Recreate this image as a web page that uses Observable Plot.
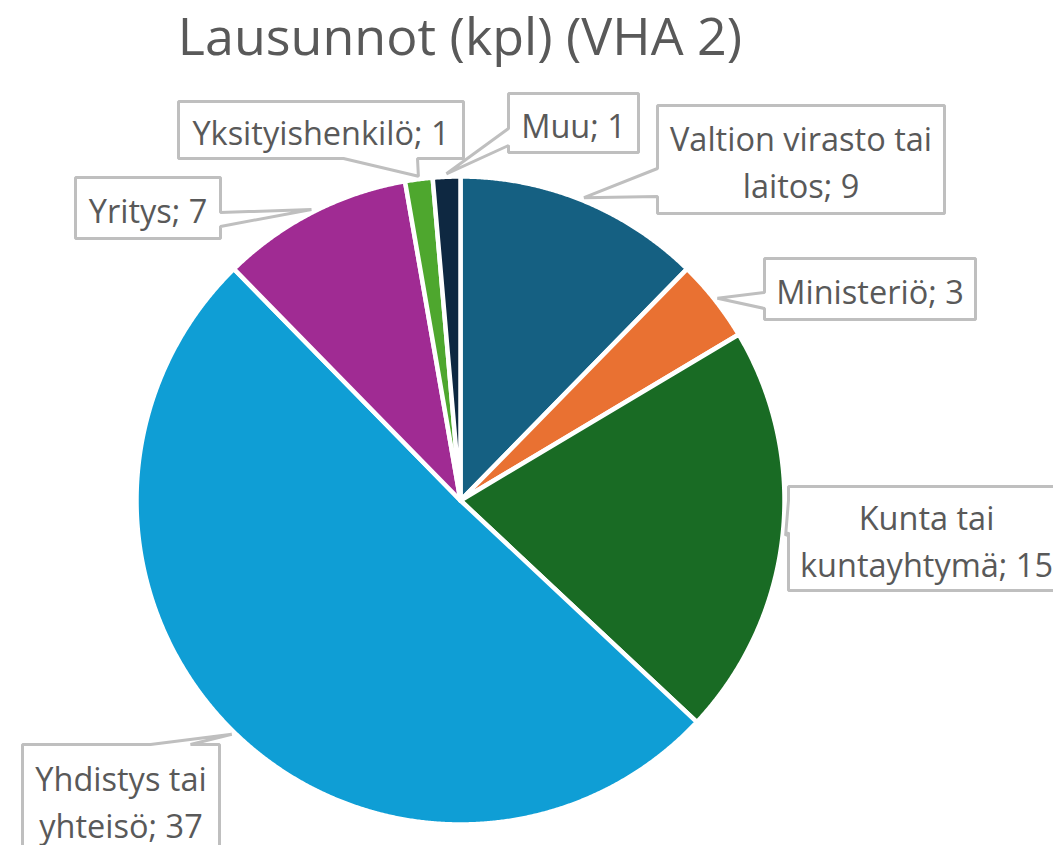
<!DOCTYPE html>
<html><head><meta charset="utf-8">
<script src="https://cdn.jsdelivr.net/npm/d3@7"></script>
<script src="https://cdn.jsdelivr.net/npm/@observablehq/plot@0.6"></script>
<style>
html,body{margin:0;padding:0;background:#fff;overflow:hidden;width:1053px;height:845px;}
#title{height:88px;width:920px;text-align:center;font-family:"Open Sans",sans-serif;font-size:52px;line-height:70px;color:#595959;white-space:nowrap;}
#chart svg{display:block;}
</style></head><body>
<div id="title">Lausunnot (kpl) (VHA 2)</div>
<div id="chart"></div>
<script>
// ---- data ----
const categories = ["Valtion virasto tai laitos", "Ministeriö", "Kunta tai kuntayhtymä", "Yhdistys tai yhteisö", "Yritys", "Yksityishenkilö", "Muu"];
const values = [9, 3, 15, 37, 7, 1, 1];
const categoryLines = ["Valtion virasto tai\nlaitos", "Ministeriö", "Kunta tai\nkuntayhtymä", "Yhdistys tai\nyhteisö", "Yritys", "Yksityishenkilö", "Muu"];
const colors = ["#156082", "#E97132", "#196B24", "#0F9ED5", "#A02B93", "#4EA72E", "#0E2841"];

// ---- layout (page pixels) ----
const W = 1053, H = 845, TOP = 88;
const CX = 460, CY = 500, R = 324;
const callouts = [
  {x1: 657, y1: 105, x2: 944, y2: 213, side: "left", a: 168, b: 196},
  {x1: 764, y1: 258, x2: 975, y2: 319, side: "left", a: 292, b: 308},
  {x1: 788, y1: 486, x2: 1064, y2: 590, side: "left", a: 500, b: 532},
  {x1: 22, y1: 744, x2: 219, y2: 854, side: "top", a: 150, b: 190},
  {x1: 75, y1: 177, x2: 220, y2: 238, side: "right", a: 212, b: 226},
  {x1: 178, y1: 101, x2: 463, y2: 158, side: "bottom", a: 343, b: 417},
  {x1: 508, y1: 93, x2: 638, y2: 152, side: "left", a: 128, b: 145}
];

const arcs = d3.pie().sort(null).value(d => d)(values);

// slice polygons
const slicePts = [];
arcs.forEach((a, i) => {
  const name = categories[i];
  slicePts.push({name, x: CX, y: CY});
  const n = Math.max(2, Math.ceil((a.endAngle - a.startAngle) / (Math.PI / 720)));
  for (let k = 0; k <= n; k++) {
    const t = a.startAngle + (a.endAngle - a.startAngle) * k / n;
    slicePts.push({name, x: CX + R * Math.sin(t), y: CY - R * Math.cos(t)});
  }
});

// callout polygons
const calloutPts = [];
const labels = [];
arcs.forEach((a, i) => {
  const c = callouts[i];
  const m = (a.startAngle + a.endAngle) / 2;
  const ax = CX + (R + 3) * Math.sin(m), ay = CY - (R + 3) * Math.cos(m);
  let p;
  if (c.side === "top") p = [[c.x1,c.y1],[c.a,c.y1],[ax,ay],[c.b,c.y1],[c.x2,c.y1],[c.x2,c.y2],[c.x1,c.y2]];
  else if (c.side === "right") p = [[c.x1,c.y1],[c.x2,c.y1],[c.x2,c.a],[ax,ay],[c.x2,c.b],[c.x2,c.y2],[c.x1,c.y2]];
  else if (c.side === "bottom") p = [[c.x1,c.y1],[c.x2,c.y1],[c.x2,c.y2],[c.b,c.y2],[ax,ay],[c.a,c.y2],[c.x1,c.y2]];
  else p = [[c.x1,c.y1],[c.x2,c.y1],[c.x2,c.y2],[c.x1,c.y2],[c.x1,c.b],[ax,ay],[c.x1,c.a]];
  p.forEach(([x, y]) => calloutPts.push({id: i, x, y}));
  labels.push({x: (c.x1 + c.x2) / 2, y: (c.y1 + c.y2) / 2, text: `${categoryLines[i]}; ${values[i]}`});
});

const chart = Plot.plot({
  width: W,
  height: H - TOP,
  margin: 0,
  x: {domain: [0, W], range: [0, W], axis: null},
  y: {domain: [TOP, H], range: [0, H - TOP], axis: null},
  color: {domain: categories, range: colors},
  style: {background: "transparent", fontFamily: "'Open Sans', sans-serif", overflow: "hidden"},
  marks: [
    Plot.line(slicePts, {x: "x", y: "y", z: "name", fill: "name", stroke: "white", strokeWidth: 4.5, strokeLinejoin: "round", curve: "linear-closed"}),
    Plot.line(calloutPts, {x: "x", y: "y", z: "id", fill: "white", stroke: "#bfbfbf", strokeWidth: 3, strokeLinejoin: "miter", curve: "linear-closed"}),
    Plot.text(labels, {x: "x", y: "y", text: "text", fontSize: 32.5, lineHeight: 1.43, fill: "#595959", textAnchor: "middle"})
  ]
});
document.getElementById("chart").appendChild(chart);
</script>
</body></html>
